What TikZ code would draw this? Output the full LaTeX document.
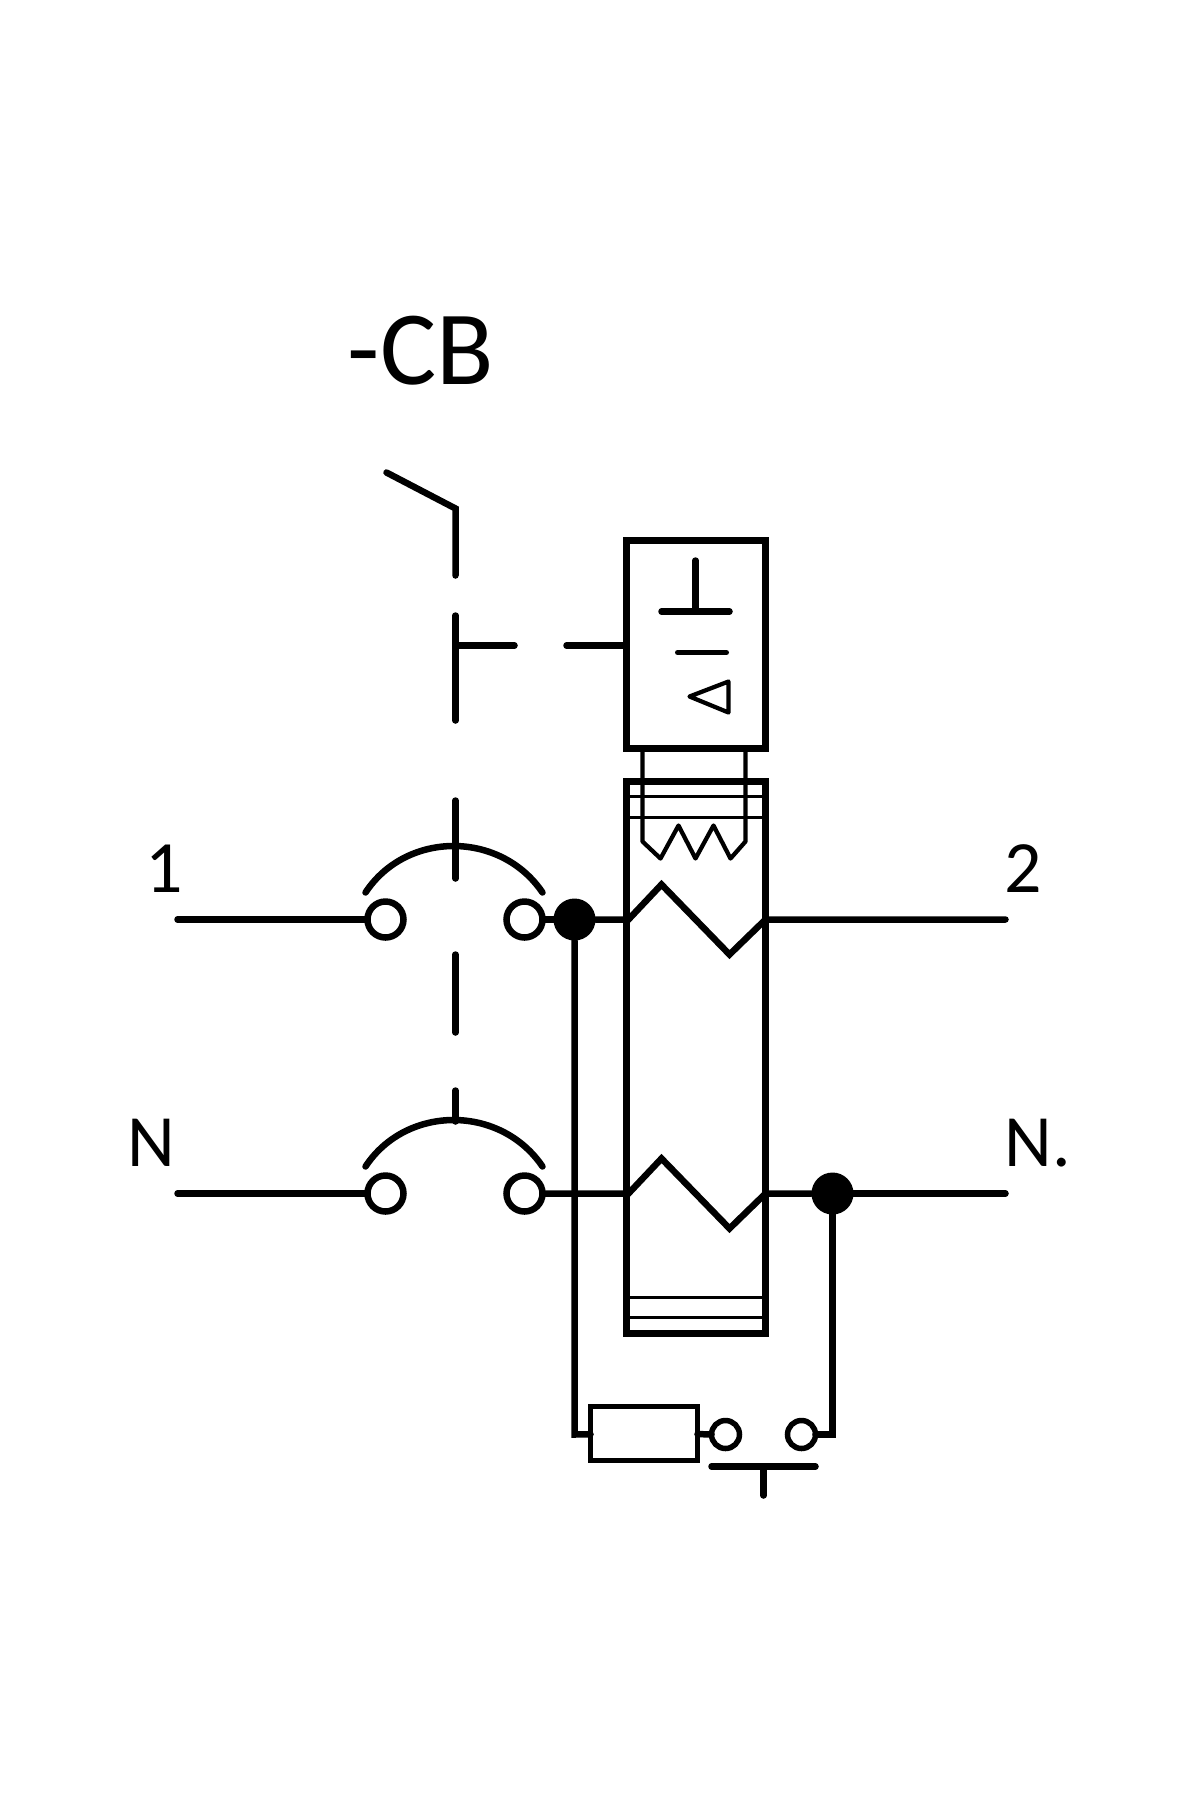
\documentclass[tikz,border=0pt]{standalone}
\usepackage{fontspec}
\setmainfont{Carlito}
\usetikzlibrary{positioning}
\tikzset{
	wire/.style={line width=0.13cm, line cap=round, line join=miter},
	thinwire/.style={line width=0.085cm, line join=round},
	term/.style={circle, draw, line width=0.13cm, fill=white, minimum size=0.72cm, inner sep=0pt, outer sep=0pt},
	smallterm/.style={circle, draw, line width=0.11cm, fill=white, minimum size=0.56cm, inner sep=0pt, outer sep=0pt},
	dot/.style={circle, fill=black, minimum size=0.84cm, inner sep=0pt, outer sep=0pt},
	case/.style={rectangle, draw, line width=0.13cm, minimum width=2.78cm, inner sep=0pt, outer sep=0pt},
	label/.style={anchor=base west, inner sep=0pt, font=\fontsize{42}{42}\selectfont}
}
\begin{document}
\begin{tikzpicture}[x=0.02cm, y=-0.02cm]
	\useasboundingbox (-3.5,-3.5) rectangle (1196.5,1796.5);
	% labels
	\node[anchor=base west, inner sep=0pt, font=\fontsize{60}{60}\selectfont] (cb) at (344,381) {-CB};
	\node[label] (lab1) at (142,889) {1};
	\node[label] (lab2) at (1001,889) {2};
	\node[label] (labN) at (124,1163) {N};
	\node[label] (labNd) at (1001,1163) {N.};
	% casings
	\node[case, minimum height=4.16cm] (trip) at (692.5,641) {};
	\node[case, minimum height=11.04cm] (main) at (692.5,1054) {};
	\node[rectangle, draw, line width=0.11cm, minimum width=2.14cm, minimum height=1.08cm, inner sep=0pt, outer sep=0pt] (res) at (640.5,1430) {};
	% terminals
	\node[term] (ta) at (382,916) {};
	\node[term] (tb) at (521,916) {};
	\node[term] (tc) at (382,1190) {};
	\node[term] (td) at (521,1190) {};
	\node[smallterm] (te) at (722,1431) {};
	\node[smallterm] (tf) at (798,1431) {};
	\node[dot] (dotL) at (571,916) {};
	\node[dot] (dotR) at (829,1190) {};
	% free ends
	\coordinate (in1) at (174,916);
	\coordinate (inN) at (174,1190);
	\coordinate (out2) at (1002,916);
	\coordinate (outN) at (1002,1190);
	\coordinate (cornerL) at (571,1431);
	\coordinate (cornerR) at (829,1431);
	% top line
	\draw[wire] (in1) -- (ta);
	\draw[wire] (tb) -- (dotL);
	\draw[wire] (dotL) -- (625,916) -- (658,881) -- (726,951) -- (762,916) -- (out2);
	% neutral line
	\draw[wire] (inN) -- (tc);
	\draw[wire] (td) -- (625,1190) -- (658,1155) -- (726,1225) -- (762,1190) -- (dotR);
	\draw[wire] (dotR) -- (outN);
	% test circuit
	\draw[wire] (dotL) -- (cornerL) -- (res);
	\draw[wire] (res) -- (te);
	\draw[wire] (tf) -- (cornerR) -- (dotR);
	\draw[wire] (708,1463) -- (812,1463);
	\draw[wire] (760,1463) -- (760,1492);
	% contacts
	\draw[wire] (362,889) .. controls (403,827) and (497,827) .. (539,889);
	\draw[wire] (362,1163) .. controls (403,1101) and (497,1101) .. (539,1163);
	% mechanical link
	\draw[wire] (383,469) -- (452,505) -- (452,572);
	\draw[wire] (452,612) -- (452,717);
	\draw[wire] (452,797) -- (452,875);
	\draw[wire] (452,951) -- (452,1029);
	\draw[wire] (452,1087) -- (452,1118);
	\draw[wire] (452,642) -- (511,642);
	\draw[wire] (563,642) -- (trip.west |- 0,642);
	% inside trip unit
	\draw[wire] (692,557) -- (692,608);
	\draw[wire] (658,608) -- (726,608);
	\draw[thinwire, line cap=round, line width=0.1cm] (674,649) -- (723,649);
	\draw[thinwire] (686,693) -- (725,678) -- (725,709) -- cycle;
	% heater below trip unit
	\draw[thinwire, line width=0.07cm] (625,793) -- (760,793);
	\draw[thinwire, line width=0.07cm] (625,814) -- (760,814);
	\draw[thinwire, line width=0.07cm] (625,1294) -- (760,1294);
	\draw[thinwire, line width=0.07cm] (625,1314) -- (760,1314);
	\draw[thinwire] (639,745) -- (639,838) -- (657,855) -- (675,822) -- (692,855) -- (710,822) -- (727,855) -- (742,838) -- (742,745);
\end{tikzpicture}
\end{document}
